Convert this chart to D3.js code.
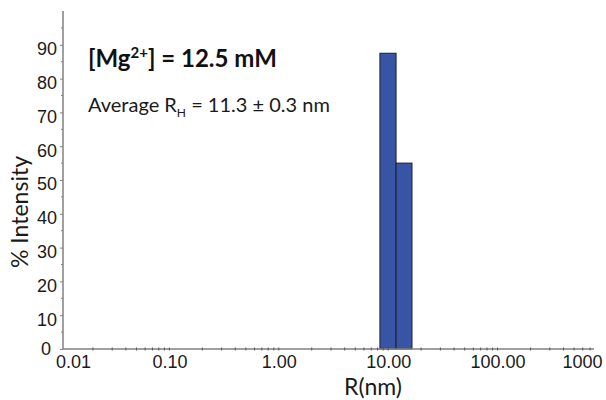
<!DOCTYPE html>
<html>
<head>
<meta charset="utf-8">
<script src="https://cdn.jsdelivr.net/npm/d3@7/dist/d3.min.js"></script>
<style>
  html, body { margin: 0; padding: 0; background: #fff; }
  svg { display: block; }
</style>
</head>
<body>
<svg id="chart" width="606" height="400"></svg>
<script>
// ---- data ----
const binEdges = [8.4, 11.8, 16.5];      // R (nm) bin edges
const intensities = [87.5, 55];           // % intensity per bin
const xTickValues = [0.01, 0.1, 1, 10, 100, 1000];
const xTickLabels = ["0.01", "0.10", "1.00", "10.00", "100.00", "1000"];
const yTickValues = [0, 10, 20, 30, 40, 50, 60, 70, 80, 90];
const yMinorValues = [5, 15, 25, 35, 45, 55, 65, 75, 85, 95];
const titleParts = ["[Mg", "2+", "] = 12.5 mM"];
const avgParts = ["Average R", "H", " = 11.3 \u00B1 0.3 nm"];

const svg = d3.select("#chart");
const x = d3.scaleLog().domain([0.01, 1000]).range([60, 607]);
const y = d3.scaleLinear().domain([0, 100]).range([349, 11]);
const axisLeftX = 63, axisRightX = 594;
const axisColor = "#808080";
const sans = "'Liberation Sans', Arial, sans-serif";
const cal = "Lato, 'Open Sans', sans-serif";

// bars
const bars = intensities.map((v, i) => ({x0: binEdges[i], x1: binEdges[i + 1], v}));
svg.append("g").selectAll("rect").data(bars).join("rect")
  .attr("x", d => x(d.x0))
  .attr("width", d => x(d.x1) - x(d.x0))
  .attr("y", d => y(d.v))
  .attr("height", d => y(0) - y(d.v))
  .attr("fill", "#3855a5")
  .attr("stroke", "#1b1f33")
  .attr("stroke-width", 1);

// x axis
const xAxis = d3.axisBottom(x).tickValues(xTickValues)
  .tickFormat((d, i) => xTickLabels[i]).tickSize(0).tickPadding(6);
const gx = svg.append("g").attr("transform", `translate(0,${y(0)})`).call(xAxis);
gx.select(".domain").remove();
gx.selectAll("text").attr("font-family", sans).attr("font-size", 18).attr("fill", "#1a1a1a");
gx.selectAll(".tick").filter(d => d === 0.01).select("text").attr("dx", 13);
gx.selectAll(".tick").filter(d => d === 1000).select("text").attr("text-anchor", "end").attr("dx", -5);
svg.append("line").attr("x1", axisLeftX).attr("x2", axisRightX)
  .attr("y1", y(0)).attr("y2", y(0)).attr("stroke", axisColor).attr("stroke-width", 1.5);
// x minor ticks
const xMinor = [];
[0.01, 0.1, 1, 10, 100].forEach(b => { for (let k = 1; k <= 9; k++) xMinor.push(b * k); });
svg.append("g").selectAll("line").data(xMinor.filter(v => x(v) >= axisLeftX && x(v) <= axisRightX))
  .join("line")
  .attr("x1", d => x(d)).attr("x2", d => x(d))
  .attr("y1", y(0) - 1.5).attr("y2", y(0) + 1.5)
  .attr("stroke", "#555").attr("stroke-width", 1);

// y axis
const yAxis = d3.axisLeft(y).tickValues(yTickValues).tickSize(3).tickPadding(3);
const gy = svg.append("g").attr("transform", `translate(${axisLeftX},0)`).call(yAxis);
gy.select(".domain").remove();
gy.selectAll(".tick line").attr("stroke", axisColor);
gy.selectAll("text").attr("font-family", sans).attr("font-size", 18).attr("fill", "#1a1a1a").attr("dy", "0.55em");
gy.selectAll(".tick").filter(d => d === 0).select("text").attr("dx", -6).attr("dy", "0.3em");
svg.append("g").selectAll("line").data(yMinorValues).join("line")
  .attr("x1", axisLeftX - 2).attr("x2", axisLeftX)
  .attr("y1", d => y(d)).attr("y2", d => y(d))
  .attr("stroke", axisColor);
svg.append("line").attr("x1", axisLeftX).attr("x2", axisLeftX)
  .attr("y1", y(100)).attr("y2", y(0)).attr("stroke", axisColor).attr("stroke-width", 1.5);

// axis titles
svg.append("text").attr("transform", "translate(28,212) rotate(-90)")
  .attr("text-anchor", "middle").attr("font-family", cal).attr("font-size", 23)
  .attr("fill", "#1a1a1a").text("% Intensity");
svg.append("text").attr("x", 373).attr("y", 395)
  .attr("text-anchor", "middle").attr("font-family", cal).attr("font-size", 23)
  .attr("fill", "#1a1a1a").text("R(nm)");

// annotations
const t = svg.append("text").attr("x", 88).attr("y", 67)
  .attr("font-family", cal).attr("font-size", 24).attr("font-weight", "bold").attr("fill", "#111");
t.append("tspan").text(titleParts[0]);
t.append("tspan").attr("font-size", 15).attr("dy", -9).text(titleParts[1]);
t.append("tspan").attr("dy", 9).text(titleParts[2]);

const a = svg.append("text").attr("x", 88).attr("y", 112)
  .attr("font-family", cal).attr("font-size", 20).attr("fill", "#1a1a1a");
a.append("tspan").text(avgParts[0]);
a.append("tspan").attr("font-size", 12).attr("dy", 5).text(avgParts[1]);
a.append("tspan").attr("dy", -5).text(avgParts[2]);
</script>
</body>
</html>
